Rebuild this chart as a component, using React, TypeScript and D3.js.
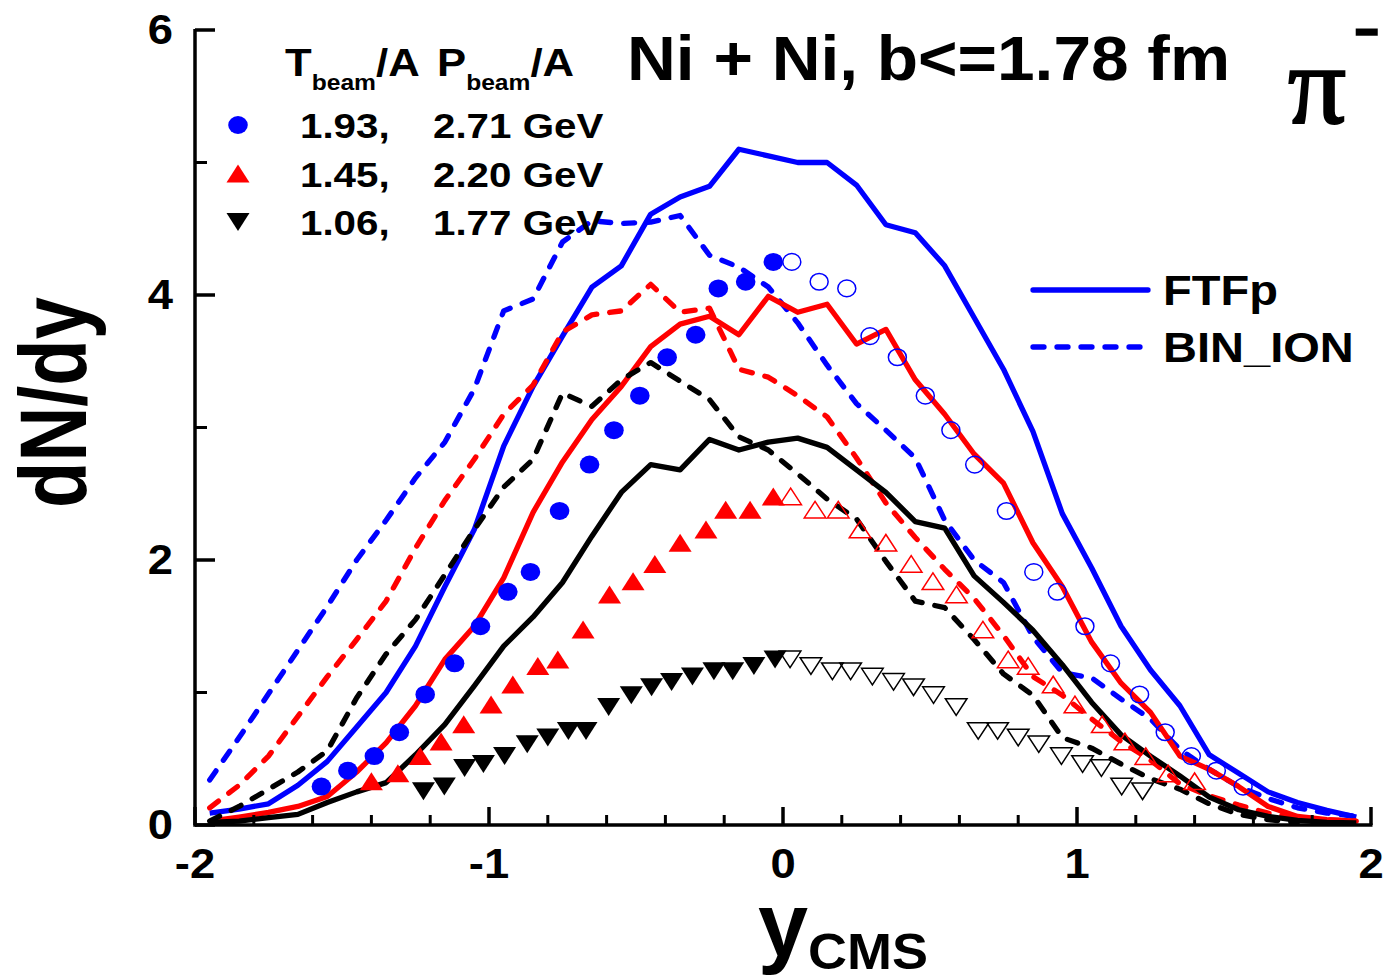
import React from "react";
import * as d3 from "d3";

// ---- data ----
const binX = [-1.95,-1.85,-1.75,-1.65,-1.55,-1.45,-1.35,-1.25,-1.15,-1.05,-0.95,-0.85,-0.75,-0.65,-0.55,-0.45,-0.35,-0.25,-0.15,-0.05,0.05,0.15,0.25,0.35,0.45,0.55,0.65,0.75,0.85,0.95,1.05,1.15,1.25,1.35,1.45,1.55,1.65,1.75,1.85,1.95];

const ftfpBlue = [0.09,0.12,0.16,0.30,0.48,0.74,1.00,1.35,1.80,2.23,2.86,3.31,3.69,4.06,4.22,4.61,4.74,4.82,5.10,5.05,5.00,5.00,4.83,4.53,4.47,4.22,3.83,3.44,2.97,2.35,1.94,1.50,1.17,0.90,0.53,0.39,0.25,0.17,0.11,0.06];
const binBlue = [0.34,0.66,0.99,1.32,1.65,2.00,2.30,2.62,2.89,3.29,3.88,3.97,4.40,4.56,4.54,4.55,4.60,4.30,4.21,4.06,3.79,3.47,3.18,2.98,2.77,2.30,2.00,1.83,1.42,1.15,1.11,0.95,0.80,0.57,0.42,0.29,0.20,0.13,0.09,0.065];
const ftfpRed = [0.03,0.06,0.095,0.14,0.215,0.40,0.62,0.90,1.25,1.50,1.865,2.36,2.74,3.06,3.31,3.61,3.78,3.84,3.70,3.99,3.87,3.93,3.63,3.74,3.36,3.10,2.80,2.58,2.13,1.80,1.38,1.07,0.85,0.52,0.42,0.29,0.14,0.065,0.04,0.03];
const binRed = [0.13,0.30,0.52,0.82,1.12,1.40,1.69,2.09,2.45,2.76,3.10,3.32,3.72,3.85,3.88,4.08,3.87,3.90,3.44,3.38,3.24,3.08,2.77,2.43,2.17,1.93,1.71,1.43,1.12,0.98,0.80,0.63,0.49,0.31,0.22,0.15,0.09,0.05,0.04,0.03];
const ftfpBlack = [0.02,0.03,0.055,0.08,0.17,0.25,0.32,0.53,0.76,1.05,1.35,1.57,1.83,2.18,2.51,2.72,2.68,2.91,2.83,2.89,2.92,2.85,2.68,2.51,2.29,2.24,1.88,1.68,1.47,1.21,0.925,0.68,0.52,0.37,0.21,0.115,0.065,0.035,0.02,0.015];
const binBlack = [0.03,0.14,0.27,0.40,0.56,0.96,1.29,1.55,1.89,2.23,2.55,2.76,3.26,3.16,3.36,3.49,3.35,3.21,2.93,2.83,2.65,2.46,2.31,1.99,1.69,1.64,1.40,1.14,0.98,0.66,0.58,0.46,0.35,0.27,0.16,0.08,0.04,0.02];

const blueFilledX = [-1.57,-1.48,-1.39,-1.305,-1.217,-1.117,-1.029,-0.936,-0.859,-0.76,-0.658,-0.575,-0.487,-0.394,-0.297,-0.22,-0.127,-0.033];
const blueFilledY = [0.29,0.41,0.52,0.70,0.985,1.22,1.50,1.76,1.91,2.37,2.72,2.98,3.24,3.53,3.70,4.05,4.10,4.25];
const blueOpenX = [0.03,0.123,0.217,0.296,0.389,0.484,0.571,0.652,0.76,0.853,0.933,1.027,1.114,1.213,1.30,1.389,1.474,1.565];
const blueOpenY = [4.25,4.10,4.05,3.69,3.53,3.24,2.98,2.72,2.37,1.91,1.76,1.50,1.22,0.985,0.70,0.52,0.41,0.29];

const redFilledX = [-1.40,-1.31,-1.234,-1.163,-1.086,-0.993,-0.919,-0.834,-0.766,-0.68,-0.59,-0.51,-0.436,-0.35,-0.262,-0.195,-0.112,-0.033];
const redFilledY = [0.33,0.39,0.52,0.63,0.76,0.91,1.06,1.20,1.25,1.475,1.74,1.84,1.97,2.13,2.23,2.38,2.38,2.48];
const redOpenX = [0.026,0.109,0.188,0.262,0.35,0.436,0.51,0.59,0.68,0.766,0.834,0.919,0.993,1.086,1.163,1.234,1.31,1.40];
const redOpenY = [2.48,2.38,2.38,2.23,2.13,1.97,1.84,1.74,1.475,1.25,1.20,1.06,0.91,0.76,0.63,0.52,0.39,0.33];

const blackFilledX = [-1.223,-1.152,-1.083,-1.019,-0.947,-0.87,-0.80,-0.73,-0.67,-0.593,-0.516,-0.447,-0.379,-0.308,-0.235,-0.171,-0.099,-0.027];
const blackFilledY = [0.255,0.29,0.43,0.46,0.52,0.61,0.66,0.71,0.71,0.89,0.98,1.04,1.08,1.12,1.16,1.16,1.20,1.25];
const blackOpenX = [0.024,0.095,0.168,0.23,0.304,0.376,0.444,0.512,0.589,0.664,0.73,0.80,0.87,0.947,1.019,1.083,1.152,1.223];
const blackOpenY = [1.25,1.20,1.16,1.16,1.12,1.08,1.04,0.98,0.89,0.71,0.71,0.66,0.61,0.52,0.46,0.43,0.29,0.255];

const xTicks = [-2, -1, 0, 1, 2];
const xMinor = [-1.8,-1.6,-1.4,-1.2,-0.8,-0.6,-0.4,-0.2,0.2,0.4,0.6,0.8,1.2,1.4,1.6,1.8];
const yTicks = [0, 2, 4, 6];
const yMinor = [1, 3, 5];

const legendRows = [
  { t: "1.93,", p: "2.71 GeV", color: "#0000ff", shape: "circle" },
  { t: "1.45,", p: "2.20 GeV", color: "#ff0000", shape: "up" },
  { t: "1.06,", p: "1.77 GeV", color: "#000000", shape: "down" },
];

const BLUE = "#0000ff";
const RED = "#ff0000";
const BLACK = "#000000";
const FONT = "'Liberation Sans', Arial, Helvetica, sans-serif";

const W = 1388, H = 980;
const x = d3.scaleLinear().domain([-2, 2]).range([195, 1371]);
const y = d3.scaleLinear().domain([0, 6]).range([825, 30]);

function linePath(ys: number[]) {
  const pts: [number, number][] = ys.map((v, i) => [binX[i], v]);
  return d3.line<[number, number]>().x(d => x(d[0])).y(d => y(d[1]))(pts) || "";
}

function tri(cx: number, cy: number, up: boolean, hw = 11.5, hh = 9) {
  return up
    ? `M${cx - hw},${cy + hh}L${cx + hw},${cy + hh}L${cx},${cy - hh}Z`
    : `M${cx - hw},${cy - hh}L${cx + hw},${cy - hh}L${cx},${cy + hh}Z`;
}

function Txt({ x: tx, y: ty, size, k = 1.12, anchor = "start", children }: any) {
  return (
    <text transform={`translate(${tx},${ty}) scale(${k},1)`} fontFamily={FONT} fontWeight="bold" fontSize={size} textAnchor={anchor} fill="#000">
      {children}
    </text>
  );
}

export default function App() {
  const lines = [
    { d: ftfpBlue, c: BLUE, dash: false },
    { d: binBlue, c: BLUE, dash: true },
    { d: ftfpRed, c: RED, dash: false },
    { d: binRed, c: RED, dash: true },
    { d: ftfpBlack, c: BLACK, dash: false },
    { d: binBlack, c: BLACK, dash: true },
  ];
  return (
    <svg width={W} height={H} style={{ position: "absolute", left: 0, top: 0, background: "#fff" }}>
      <rect width={W} height={H} fill="#fff" />
      {/* lines */}
      {lines.map((l, i) => (
        <path key={i} d={linePath(l.d)} fill="none" stroke={l.c} strokeWidth={5.3}
          strokeLinejoin="round" strokeLinecap={l.dash ? "round" : "butt"}
          strokeDasharray={l.dash ? "11,13" : undefined} />
      ))}
      {/* markers */}
      {blueFilledX.map((v, i) => (
        <ellipse key={"bf" + i} cx={x(v)} cy={y(blueFilledY[i])} rx={9.8} ry={9} fill={BLUE} />
      ))}
      {blueOpenX.map((v, i) => (
        <ellipse key={"bo" + i} cx={x(v)} cy={y(blueOpenY[i])} rx={9} ry={8.3} fill="none" stroke={BLUE} strokeWidth={1.5} />
      ))}
      {redFilledX.map((v, i) => (
        <path key={"rf" + i} d={tri(x(v), y(redFilledY[i]), true)} fill={RED} />
      ))}
      {redOpenX.map((v, i) => (
        <path key={"ro" + i} d={tri(x(v), y(redOpenY[i]), true, 10.8, 8.3)} fill="none" stroke={RED} strokeWidth={1.5} />
      ))}
      {blackFilledX.map((v, i) => (
        <path key={"kf" + i} d={tri(x(v), y(blackFilledY[i]), false)} fill={BLACK} />
      ))}
      {blackOpenX.map((v, i) => (
        <path key={"ko" + i} d={tri(x(v), y(blackOpenY[i]), false, 10.8, 8.3)} fill="none" stroke={BLACK} strokeWidth={1.5} />
      ))}

      {/* axes */}
      <line x1={x(-2)} x2={x(2) + 1.5} y1={y(0)} y2={y(0)} stroke="#000" strokeWidth={3.5} />
      <line x1={x(-2)} x2={x(-2)} y1={y(0) + 1.7} y2={y(6) - 1} stroke="#000" strokeWidth={3.5} />
      {xTicks.map(t => (
        <line key={"xt" + t} x1={x(t)} x2={x(t)} y1={y(0)} y2={y(0) - 18} stroke="#000" strokeWidth={3.5} />
      ))}
      {xMinor.map(t => (
        <line key={"xm" + t} x1={x(t)} x2={x(t)} y1={y(0)} y2={y(0) - 10} stroke="#000" strokeWidth={3} />
      ))}
      {yTicks.map(t => (
        <line key={"yt" + t} x1={x(-2)} x2={x(-2) + 20} y1={y(t)} y2={y(t)} stroke="#000" strokeWidth={3.5} />
      ))}
      {yMinor.map(t => (
        <line key={"ym" + t} x1={x(-2)} x2={x(-2) + 12} y1={y(t)} y2={y(t)} stroke="#000" strokeWidth={3} />
      ))}
      {xTicks.map(t => (
        <Txt key={"xl" + t} x={x(t)} y={y(0) + 53} size={42} k={1.08} anchor="middle">{t < 0 ? "-" + Math.abs(t) : String(t)}</Txt>
      ))}
      {yTicks.map(t => (
        <Txt key={"yl" + t} x={173} y={y(t) + 14} size={42} k={1.08} anchor="end">{String(t)}</Txt>
      ))}

      {/* axis titles */}
      <text transform="translate(86,508) rotate(-90)" fontFamily={FONT} fontWeight="bold" fontSize={95}
        textLength={211} lengthAdjust="spacingAndGlyphs">dN/dy</text>
      <text x={758} y={956} fontFamily={FONT} fontWeight="bold" fontSize={90}>y</text>
      <text x={808} y={969} fontFamily={FONT} fontWeight="bold" fontSize={50} textLength={120} lengthAdjust="spacingAndGlyphs">CMS</text>

      {/* title */}
      <text x={627} y={80} fontFamily={FONT} fontWeight="bold" fontSize={63} textLength={603} lengthAdjust="spacingAndGlyphs">Ni + Ni, b&lt;=1.78 fm</text>
      <text x={1288} y={123} fontFamily="'Liberation Serif', 'Times New Roman', serif" fontSize={112}
        stroke="#000" strokeWidth={2.2} textLength={58} lengthAdjust="spacingAndGlyphs">π</text>
      <text transform="translate(1354,45) scale(1.6,1)" fontFamily={FONT} fontWeight="bold" fontSize={48}
        stroke="#000" strokeWidth={1.6}>-</text>

      {/* symbol legend */}
      <Txt x={285} y={76} size={39}>
        T<tspan fontSize={22} dy={14}>beam</tspan><tspan dy={-14}>/A</tspan>
      </Txt>
      <Txt x={437} y={76} size={39}>
        P<tspan fontSize={22} dy={14}>beam</tspan><tspan dy={-14}>/A</tspan>
      </Txt>
      {legendRows.map((r, i) => {
        const cy = 125 + i * 48.5;
        return (
          <g key={"lg" + i}>
            {r.shape === "circle" ? (
              <ellipse cx={238} cy={cy} rx={9.8} ry={9} fill={r.color} />
            ) : (
              <path d={tri(238, cy, r.shape === "up")} fill={r.color} />
            )}
            <Txt x={300} y={cy + 13} size={36}>{r.t}</Txt>
            <Txt x={433} y={cy + 13} size={36}>{r.p}</Txt>
          </g>
        );
      })}

      {/* line legend */}
      <line x1={1033} x2={1148} y1={290} y2={290} stroke={BLUE} strokeWidth={5.3} strokeLinecap="round" />
      <Txt x={1163} y={305} size={42}>FTFp</Txt>
      <line x1={1033} x2={1148} y1={347} y2={347} stroke={BLUE} strokeWidth={5.3} strokeLinecap="round" strokeDasharray="11,13" />
      <Txt x={1163} y={362} size={42}>BIN_ION</Txt>
    </svg>
  );
}
